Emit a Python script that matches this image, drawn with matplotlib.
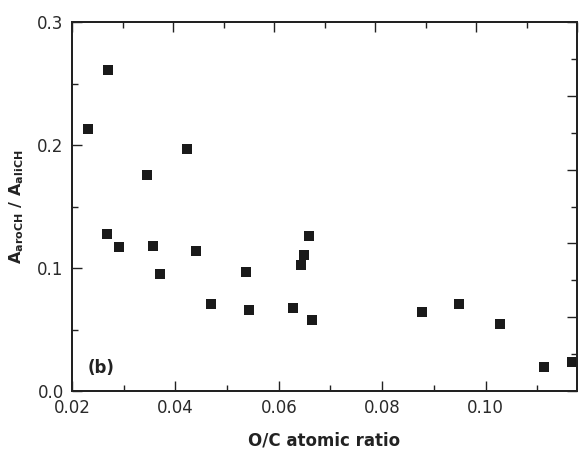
import matplotlib
matplotlib.use("Agg")
import matplotlib.pyplot as plt
from matplotlib.ticker import MultipleLocator

oc_ratio = [0.0231, 0.0269, 0.0423, 0.0346, 0.0267, 0.0291, 0.0356, 0.0371,
            0.0439, 0.0468, 0.0536, 0.0543, 0.0627, 0.0643, 0.0649, 0.0658,
            0.0665, 0.0877, 0.0948, 0.1028, 0.1113, 0.1168]
aro_ali = [0.2130, 0.2612, 0.1965, 0.1756, 0.1276, 0.1171, 0.1179, 0.0954,
           0.1141, 0.0710, 0.0970, 0.0656, 0.0677, 0.1024, 0.1106, 0.1263,
           0.0580, 0.0642, 0.0710, 0.0547, 0.0198, 0.0233]

x_ticks = [0.02, 0.04, 0.06, 0.08, 0.10]
x_tick_labels = ["0.02", "0.04", "0.06", "0.08", "0.10"]
y_ticks = [0.0, 0.1, 0.2, 0.3]
y_tick_labels = ["0.0", "0.1", "0.2", "0.3"]

plt.rcParams['font.family'] = ['DejaVu Sans']
fig = plt.figure(figsize=(5.79, 4.50), dpi=100)
ax = fig.add_axes([72/579, 1-391/450, (577-72)/579, (391-22)/450])

col = '#1a1a1a'
ax.plot(oc_ratio, aro_ali, linestyle='none', marker='s', markersize=6.5,
        color=col, markeredgewidth=0, clip_on=False, zorder=3)

ax.set_xlim(0.02, 0.1177)
ax.set_ylim(0.0, 0.3)
ax.set_xticks(x_ticks)
ax.set_xticklabels(x_tick_labels)
ax.set_yticks(y_ticks)
ax.set_yticklabels(y_tick_labels)
ax.xaxis.set_minor_locator(MultipleLocator(0.01))
ax.yaxis.set_minor_locator(MultipleLocator(0.05))
ax.tick_params(which='both', direction='in', colors='#222222', labelcolor='#2a2a2a',
               labelsize=12, width=1.0)
ax.tick_params(which='major', length=7, pad=6)
ax.tick_params(which='minor', length=4)

for s in ax.spines.values():
    s.set_linewidth(1.3)
    s.set_color('#222222')

# top and right decorative axes with their own tick spacing
axt = ax.twiny()
axt.set_xlim(0, 10)
axt.xaxis.set_major_locator(MultipleLocator(2))
axt.xaxis.set_minor_locator(MultipleLocator(1))
axt.tick_params(which='both', direction='in', labeltop=False, width=1.0, colors='#222222')
axt.tick_params(which='major', length=7)
axt.tick_params(which='minor', length=4)
axr = ax.twinx()
axr.set_ylim(0, 10)
axr.yaxis.set_major_locator(MultipleLocator(2))
axr.yaxis.set_minor_locator(MultipleLocator(1))
axr.tick_params(which='both', direction='in', labelright=False, width=1.0, colors='#222222')
axr.tick_params(which='major', length=7)
axr.tick_params(which='minor', length=4)
for a in (axt, axr):
    for s in a.spines.values():
        s.set_linewidth(1.3)
        s.set_color('#222222')

ax.set_xlabel("O/C atomic ratio", fontsize=12, fontweight='bold', color='#222222', labelpad=10)
ax.set_ylabel(r"$\mathbf{A_{aroCH}}$ / $\mathbf{A_{aliCH}}$", fontsize=11.5, fontweight='bold',
              color='#222222', labelpad=8)
ax.text(0.03, 0.062, "(b)", transform=ax.transAxes, fontsize=12, fontweight='bold',
        color='#222222', ha='left', va='center')

fig.savefig("out.png", dpi=100)
